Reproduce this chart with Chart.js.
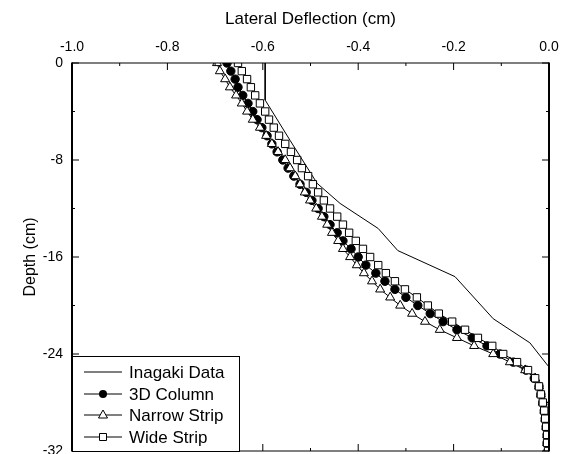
<!DOCTYPE html>
<html>
<head>
<meta charset="utf-8">
<script src="https://cdn.jsdelivr.net/npm/chart.js@4.4.1/dist/chart.umd.min.js"></script>
<style>
  html, body { margin: 0; padding: 0; background: #fff; }
</style>
</head>
<body>
<canvas id="c" width="563" height="454"></canvas>
<script>
/* Lateral deflection vs depth */

// depth of the computed profiles (cm)
const depth = [0, -0.67, -1.33, -2, -2.67, -3.33, -4, -4.67, -5.33, -6,
  -6.67, -7.33, -8, -8.67, -9.33, -10, -10.67, -11.33, -12, -12.67,
  -13.33, -14, -14.67, -15.33, -16, -16.67, -17.33, -18, -18.67, -19.33,
  -20, -20.67, -21.33, -22, -22.67, -23.33, -24, -24.67, -25.33, -26,
  -26.67, -27.33, -28, -28.67, -29.33, -30, -30.67, -31.33, -32];

const col3d = [-0.675, -0.667, -0.658, -0.652, -0.642, -0.631, -0.621, -0.612, -0.602, -0.591,
  -0.581, -0.570, -0.558, -0.547, -0.535, -0.522, -0.509, -0.497, -0.484, -0.472,
  -0.459, -0.444, -0.432, -0.415, -0.400, -0.384, -0.363, -0.344, -0.323, -0.300,
  -0.275, -0.249, -0.222, -0.193, -0.161, -0.130, -0.103, -0.075, -0.048, -0.031,
  -0.021, -0.017, -0.013, -0.010, -0.008, -0.006, -0.004, -0.004, -0.002];

const narrow = [-0.696, -0.690, -0.679, -0.669, -0.656, -0.644, -0.633, -0.621, -0.606, -0.593,
  -0.581, -0.568, -0.553, -0.543, -0.532, -0.522, -0.512, -0.501, -0.488, -0.476,
  -0.465, -0.455, -0.442, -0.432, -0.417, -0.403, -0.388, -0.371, -0.354, -0.333,
  -0.312, -0.287, -0.260, -0.229, -0.193, -0.157, -0.117, -0.082, -0.050, -0.029,
  -0.021, -0.017, -0.013, -0.010, -0.008, -0.006, -0.004, -0.004, -0.002];

const wide = [-0.652, -0.644, -0.633, -0.625, -0.616, -0.606, -0.595, -0.587, -0.577, -0.566,
  -0.553, -0.541, -0.528, -0.518, -0.505, -0.495, -0.484, -0.472, -0.459, -0.444,
  -0.432, -0.419, -0.405, -0.390, -0.375, -0.358, -0.342, -0.323, -0.302, -0.277,
  -0.254, -0.231, -0.203, -0.176, -0.149, -0.119, -0.096, -0.067, -0.044, -0.029,
  -0.021, -0.017, -0.013, -0.010, -0.008, -0.006, -0.004, -0.004, -0.002];

// Inagaki measured profile
const inagakiX = [-0.595, -0.595, -0.543, -0.486, -0.438, -0.358, -0.317, -0.197, -0.117, -0.040, -0.002];
const inagakiDepth = [0, -3.06, -6.37, -9.93, -11.58, -13.65, -15.47, -17.62, -21.09, -23.08, -24.98];

const xTickVals = [-1.0, -0.8, -0.6, -0.4, -0.2, 0.0];
const xMinorVals = [-0.9, -0.7, -0.5, -0.3, -0.1];
const yTickVals = [0, -8, -16, -24, -32];
const yMinorVals = [-4, -12, -20, -28];

const names = ['Inagaki Data', '3D Column', 'Narrow Strip', 'Wide Strip'];

Chart.defaults.font.family = '"Liberation Sans", Arial, sans-serif';
Chart.defaults.color = '#000';

function pts(xs, ys) {
  return xs.map((v, i) => ({ x: v, y: ys[i] }));
}

// axis frame with inward ticks on all four sides
const frame = {
  id: 'frame',
  afterDatasetsDraw(chart) {
    const { ctx, chartArea: a, scales: { x, y } } = chart;
    ctx.save();
    ctx.strokeStyle = '#000';
    ctx.lineWidth = 1;
    ctx.beginPath();
    const xt = (v, len) => {
      const p = x.getPixelForValue(v);
      ctx.moveTo(p, a.top); ctx.lineTo(p, a.top + len);
      ctx.moveTo(p, a.bottom); ctx.lineTo(p, a.bottom - len);
    };
    const yt = (v, len) => {
      const p = y.getPixelForValue(v);
      ctx.moveTo(a.left, p); ctx.lineTo(a.left + len, p);
      ctx.moveTo(a.right, p); ctx.lineTo(a.right - len, p);
    };
    xTickVals.forEach(v => xt(v, 7));
    xMinorVals.forEach(v => xt(v, 3));
    yTickVals.forEach(v => yt(v, 7));
    yMinorVals.forEach(v => yt(v, 3));
    ctx.stroke();

    ctx.lineWidth = 1.2;
    ctx.beginPath();
    ctx.moveTo(a.left, a.top); ctx.lineTo(a.right, a.top);
    ctx.moveTo(a.left, a.bottom); ctx.lineTo(a.right, a.bottom);
    ctx.stroke();
    ctx.lineWidth = 2;
    ctx.beginPath();
    ctx.moveTo(a.left, a.top - 0.6); ctx.lineTo(a.left, a.bottom + 0.6);
    ctx.moveTo(a.right, a.top - 0.6); ctx.lineTo(a.right, a.bottom + 0.6);
    ctx.stroke();
    ctx.restore();
  }
};

// boxed legend in lower left corner, line through each marker
function marker(ctx, style, cx, cy) {
  ctx.beginPath();
  if (style === 'circle') {
    ctx.arc(cx, cy, 4, 0, Math.PI * 2);
    ctx.fillStyle = '#000';
    ctx.fill();
    return;
  }
  if (style === 'triangle') {
    ctx.moveTo(cx, cy - 5);
    ctx.lineTo(cx + 4.5, cy + 3);
    ctx.lineTo(cx - 4.5, cy + 3);
    ctx.closePath();
  } else {
    ctx.rect(cx - 3.5, cy - 3.5, 7, 7);
  }
  ctx.fillStyle = '#fff';
  ctx.fill();
  ctx.stroke();
}

const boxLegend = {
  id: 'boxLegend',
  afterDraw(chart) {
    const { ctx, chartArea: a } = chart;
    const w = 167, h = 95;
    const left = a.left, top = a.bottom - h;
    const styles = [null, 'circle', 'triangle', 'rect'];
    const rows = [16, 38, 59, 81];
    ctx.save();
    ctx.fillStyle = '#fff';
    ctx.fillRect(left, top, w, h);
    ctx.strokeStyle = '#000';
    ctx.lineWidth = 1;
    ctx.strokeRect(left + 0.5, top + 0.5, w, h);
    ctx.font = '17px "Liberation Sans", Arial, sans-serif';
    ctx.textBaseline = 'middle';
    names.forEach((n, i) => {
      const ry = top + rows[i];
      ctx.strokeStyle = '#000';
      ctx.lineWidth = 1;
      ctx.beginPath();
      ctx.moveTo(left + 12, ry); ctx.lineTo(left + 50, ry);
      ctx.stroke();
      if (styles[i]) marker(ctx, styles[i], left + 31, ry);
      ctx.fillStyle = '#000';
      ctx.fillText(n, left + 57, ry + 1);
    });
    ctx.restore();
  }
};

const common = { showLine: true, borderColor: '#000', borderWidth: 1, pointBorderColor: '#000', pointBorderWidth: 1 };

new Chart(document.getElementById('c'), {
  type: 'scatter',
  data: {
    datasets: [
      Object.assign({}, common, { label: names[0], data: pts(inagakiX, inagakiDepth), pointRadius: 0, order: 4 }),
      Object.assign({}, common, { label: names[1], data: pts(col3d, depth), pointStyle: 'circle', pointRadius: 4.2, pointBackgroundColor: '#000', order: 3 }),
      Object.assign({}, common, { label: names[2], data: pts(narrow, depth), pointStyle: 'triangle', pointRadius: 5.2, pointBackgroundColor: '#fff', order: 2 }),
      Object.assign({}, common, { label: names[3], data: pts(wide, depth), pointStyle: 'rect', pointRadius: 5.2, pointBackgroundColor: '#fff', order: 1 })
    ]
  },
  options: {
    responsive: false,
    animation: false,
    events: [],
    layout: { autoPadding: false, padding: { left: 0, right: 14, top: 0, bottom: 3 } },
    plugins: { legend: { display: false }, tooltip: { enabled: false } },
    scales: {
      x: {
        type: 'linear', position: 'top', min: -1, max: 0,
        grid: { display: false, drawTicks: false },
        border: { display: false },
        afterBuildTicks: s => { s.ticks = xTickVals.map(v => ({ value: v })); },
        afterFit: s => { s.height = 63; s.paddingLeft = 0; s.paddingRight = 0; },
        ticks: {
          font: { size: 14 }, padding: 7, maxRotation: 0, autoSkip: false,
          callback: v => Math.abs(v) < 1e-9 ? '0.0' : v.toFixed(1)
        },
        title: { display: true, text: 'Lateral Deflection (cm)', font: { size: 17 }, padding: { top: 9, bottom: 0 } }
      },
      y: {
        type: 'linear', position: 'left', min: -32, max: 0,
        grid: { display: false, drawTicks: false },
        border: { display: false },
        afterBuildTicks: s => { s.ticks = yTickVals.map(v => ({ value: v })); },
        afterFit: s => { s.width = 72; s.paddingTop = 0; s.paddingBottom = 0; },
        ticks: { font: { size: 14 }, padding: 9, autoSkip: false, callback: v => String(v) },
        title: { display: true, text: 'Depth (cm)', font: { size: 16 }, padding: { top: 21, bottom: 0 } }
      }
    }
  },
  plugins: [frame, boxLegend]
});
</script>
</body>
</html>
